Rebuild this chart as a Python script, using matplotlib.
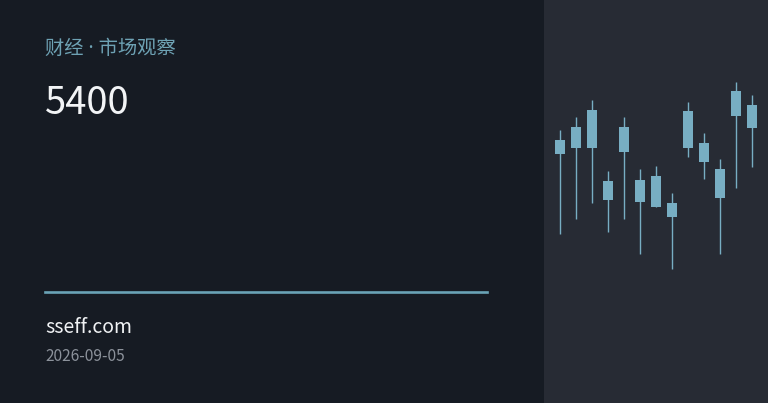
import matplotlib
matplotlib.use("Agg")
import matplotlib.pyplot as plt

# ----------------
# Chart data
# ----------------

title = "财经 · 市场观察"
headline = "5400"
site = "sseff.com"
date = "2026-09-05"

# candles: high, body top, body bottom, low (arbitrary price units)
highs = [170, 183, 200, 129, 183, 131, 134, 107, 198, 167, 141, 218, 205]
tops = [160, 173, 190, 119, 173, 120, 124, 97, 189, 157, 131, 209, 195]
bottoms = [146, 152, 152, 100, 148, 98, 93, 83, 152, 138, 102, 184, 172]
lows = [66, 81, 97, 68, 81, 46, 93, 31, 143, 121, 46, 112, 133]

# ----------------
# Styles
# ----------------

W, H = 768, 403
BG_LEFT = "#161b23"
BG_RIGHT = "#272b34"
ACCENT = "#78aec3"
plt.rcParams["font.family"] = ["Noto Sans CJK SC", "DejaVu Sans"]
MIXED = ["Noto Sans", "Noto Sans CJK SC"]


def fy(px):
    return 1 - px / H


def fx(px):
    return px / W


fig = plt.figure(figsize=(W / 100, H / 100), dpi=100)
fig.patch.set_facecolor(BG_LEFT)

# right panel with candles
ax = fig.add_axes([fx(544), 0, fx(W - 544), 1])
ax.set_facecolor(BG_RIGHT)
for i, (hi, top, bot, lo) in enumerate(zip(highs, tops, bottoms, lows)):
    ax.vlines(i, lo, hi, color=ACCENT, linewidth=1.0)
    ax.bar(i, top - bot, bottom=bot, width=0.62, color=ACCENT, linewidth=0)
ax.set_xlim(-1.02, 12.98)
ax.set_ylim(-103, 300)
ax.set_xticks([])
ax.set_yticks([])
for s in ax.spines.values():
    s.set_visible(False)

# left text block
fig.text(fx(45), fy(54), title, color="#6ea2b4", fontsize=13.9,
         va="baseline", family=MIXED)
fig.text(fx(45), fy(114), headline, color="#f2f4f6", fontsize=27.5,
         va="baseline")
fig.add_artist(plt.Line2D([fx(45), fx(487)], [fy(292), fy(292)],
                          color="#6aa3b6", linewidth=1.9))
fig.text(fx(45), fy(333), site, color="#f0f2f4", fontsize=14, va="baseline")
fig.text(fx(45), fy(361), date, color="#8c929b", fontsize=11.2, va="baseline")

fig.savefig("out.png", dpi=100, facecolor=fig.get_facecolor())
